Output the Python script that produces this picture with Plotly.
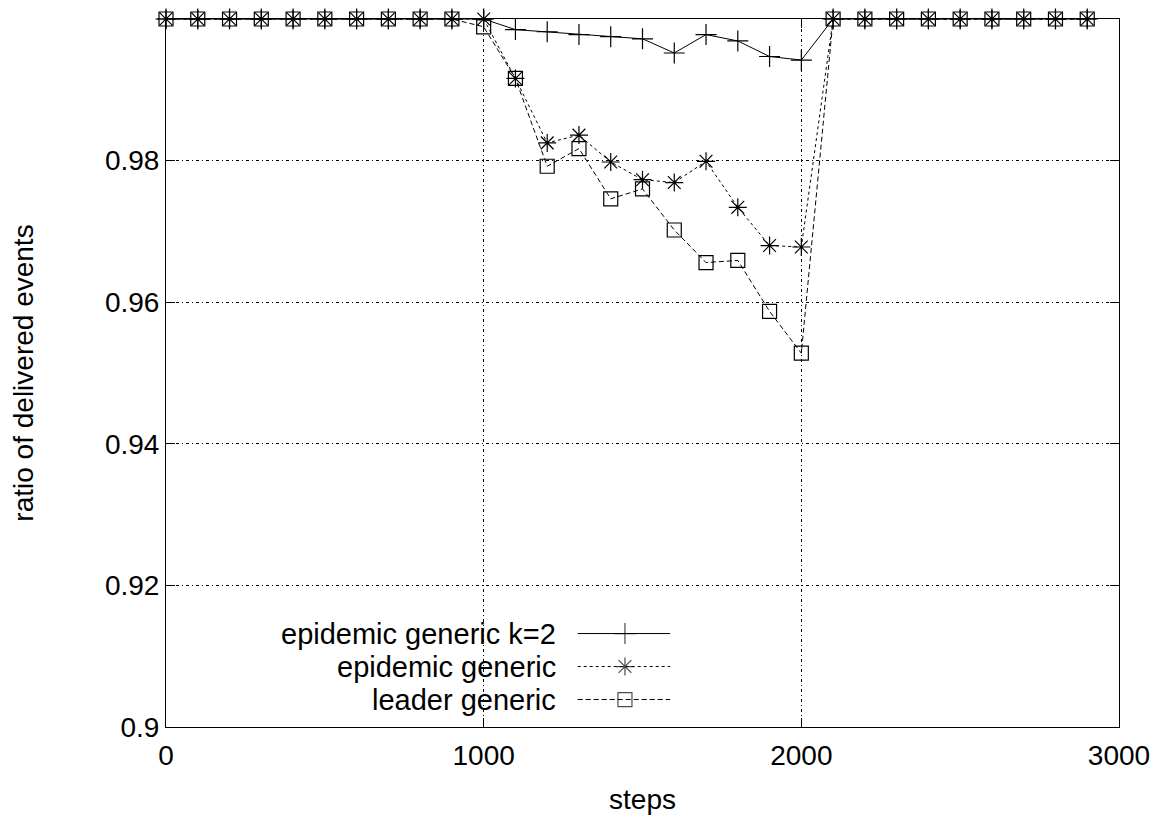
import plotly.graph_objects as go

steps = [0, 100, 200, 300, 400, 500, 600, 700, 800, 900, 1000, 1100, 1200, 1300, 1400,
         1500, 1600, 1700, 1800, 1900, 2000, 2100, 2200, 2300, 2400, 2500, 2600, 2700, 2800, 2900]

epidemic_k2 = [1, 1, 1, 1, 1, 1, 1, 1, 1, 1, 1.0, 0.9985, 0.9982, 0.9978, 0.9975,
               0.9972, 0.9952, 0.9978, 0.9969, 0.9947, 0.9942, 1, 1, 1, 1, 1, 1, 1, 1, 1]
epidemic = [1, 1, 1, 1, 1, 1, 1, 1, 1, 1, 1.0, 0.9916, 0.9825, 0.9836, 0.9798,
            0.9773, 0.9769, 0.9799, 0.9734, 0.9680, 0.9678, 1, 1, 1, 1, 1, 1, 1, 1, 1]
leader = [1, 1, 1, 1, 1, 1, 1, 1, 1, 1, 0.9989, 0.9916, 0.9792, 0.9817, 0.9746,
          0.9760, 0.9702, 0.9656, 0.9659, 0.9587, 0.9528, 1, 1, 1, 1, 1, 1, 1, 1, 1]

names = ["epidemic generic k=2", "epidemic generic", "leader generic"]
xticks = [0, 1000, 2000, 3000]
yticks = [0.9, 0.92, 0.94, 0.96, 0.98, 1.0]
ytick_text = ["0.9", "0.92", "0.94", "0.96", "0.98", "1"]

FONT = "Liberation Sans, Arial, sans-serif"
FS = 28
LEG_FS = 29
series = [
    (epidemic_k2, "solid", "cross-thin", 15),
    (epidemic, "3px,3px", "asterisk", 15),
    (leader, "5px,3px", "square-open", 14),
]

fig = go.Figure()
for (vals, dash, sym, size), name in zip(series, names):
    fig.add_trace(go.Scatter(
        x=steps, y=vals, mode="lines+markers", name=name, showlegend=False,
        line=dict(color="black", width=1, dash=dash),
        marker=dict(symbol=sym, size=size, color="black",
                    line=dict(color="black", width=1.2)),
        cliponaxis=False,
    ))

# custom legend (text left, sample right, as in gnuplot)
leg_y = [0.132, 0.0854, 0.0388]
for (vals, dash, sym, size), name, ly in zip(series, names, leg_y):
    fig.add_trace(go.Scatter(
        x=[0.432, 0.4816, 0.529], y=[ly, ly, ly], xaxis="x2", yaxis="y2",
        mode="lines+markers", showlegend=False, hoverinfo="skip",
        line=dict(color="black", width=1, dash=dash),
        marker=dict(symbol=sym, size=[0, size, 0], color="black",
                    line=dict(color="black", width=1.2)),
    ))
    fig.add_annotation(x=0.411, y=ly, xref="paper", yref="paper", text=name,
                       showarrow=False, xanchor="right", yanchor="middle",
                       font=dict(family=FONT, size=LEG_FS, color="black"))

axis_common = dict(
    showline=True, linecolor="black", linewidth=1, mirror="ticks",
    ticks="inside", ticklen=9, tickcolor="black", tickwidth=1,
    showgrid=True, gridcolor="black", gridwidth=1, griddash="3px,3px,1px,3px",
    zeroline=False, automargin=False,
    tickfont=dict(family=FONT, size=FS, color="black"),
)

fig.update_layout(
    width=1144, height=807, plot_bgcolor="white", paper_bgcolor="white",
    margin=dict(l=158, r=33, t=11, b=88),
    font=dict(family=FONT, size=FS, color="black"),
    xaxis=dict(range=[0, 3000], tickvals=xticks, ticklabelstandoff=3,
               title=dict(text="steps", font=dict(family=FONT, size=FS), standoff=31),
               **axis_common),
    yaxis=dict(range=[0.9, 1.0], tickvals=yticks, ticktext=ytick_text,
               ticklabelstandoff=0,
               title=dict(text="ratio of delivered events", font=dict(family=FONT, size=FS),
                          standoff=66),
               **axis_common),
    xaxis2=dict(range=[0, 1], overlaying="x", visible=False, fixedrange=True),
    yaxis2=dict(range=[0, 1], overlaying="y", visible=False, fixedrange=True),
)

fig.write_html("out.html")
